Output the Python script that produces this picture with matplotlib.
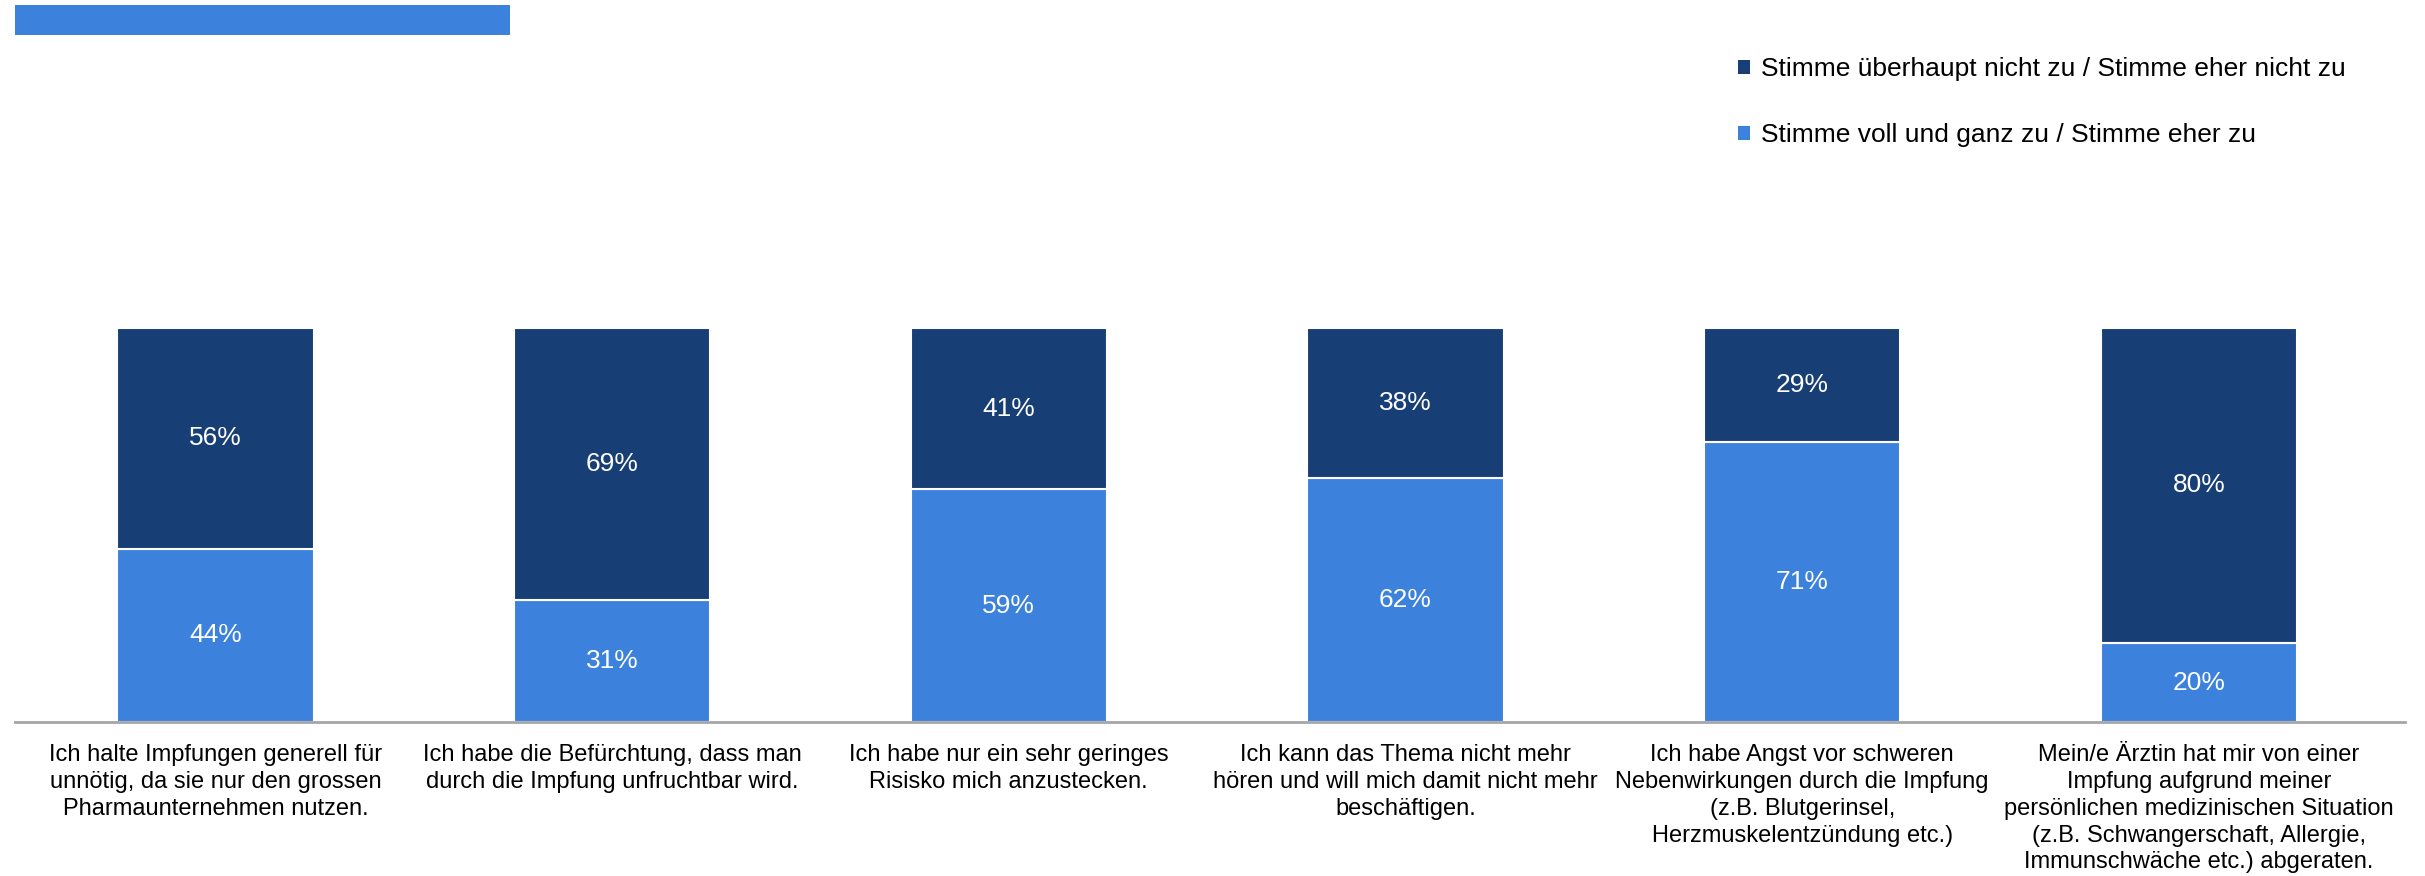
import matplotlib
matplotlib.use("Agg")
import matplotlib.pyplot as plt
from matplotlib.patches import Patch, Rectangle
import numpy as np

plt.rcParams['font.family'] = ['Liberation Sans', 'DejaVu Sans']

# data
categories = [
    "Ich halte Impfungen generell für\nunnötig, da sie nur den grossen\nPharmaunternehmen nutzen.",
    "Ich habe die Befürchtung, dass man\ndurch die Impfung unfruchtbar wird.",
    "Ich habe nur ein sehr geringes\nRisisko mich anzustecken.",
    "Ich kann das Thema nicht mehr\nhören und will mich damit nicht mehr\nbeschäftigen.",
    "Ich habe Angst vor schweren\nNebenwirkungen durch die Impfung\n(z.B. Blutgerinsel,\nHerzmuskelentzündung etc.)",
    "Mein/e Ärztin hat mir von einer\nImpfung aufgrund meiner\npersönlichen medizinischen Situation\n(z.B. Schwangerschaft, Allergie,\nImmunschwäche etc.) abgeraten.",
]
zustimmung = [44, 31, 59, 62, 71, 20]      # Stimme voll und ganz zu / eher zu
ablehnung = [56, 69, 41, 38, 29, 80]       # Stimme überhaupt nicht zu / eher nicht zu
label_zu = "Stimme voll und ganz zu / Stimme eher zu"
label_nicht = "Stimme überhaupt nicht zu / Stimme eher nicht zu"

c_light = '#3c82dc'
c_dark = '#173f76'

fig = plt.figure(figsize=(24.25, 8.76), dpi=100)
ax = fig.add_axes([0.0062, 0.1758, 0.9856, 0.45])

x = np.arange(len(categories))
w = 0.495
b1 = ax.bar(x, zustimmung, w, color=c_light, edgecolor='white', linewidth=1.5)
b2 = ax.bar(x, ablehnung, w, bottom=zustimmung, color=c_dark, edgecolor='white', linewidth=1.5)

for i in range(len(x)):
    ax.text(x[i], zustimmung[i] / 2, '%d%%' % zustimmung[i], ha='center', va='center',
            color='white', fontsize=19)
    ax.text(x[i], zustimmung[i] + ablehnung[i] / 2, '%d%%' % ablehnung[i], ha='center',
            va='center', color='white', fontsize=19)

ax.set_xlim(-0.505, 5.52)
ax.set_ylim(0, 100)
ax.set_yticks([])
ax.set_xticks(x)
ax.set_xticklabels(categories, fontsize=17, linespacing=1.28)
ax.tick_params(axis='x', length=0, pad=16)
for s in ['top', 'left', 'right']:
    ax.spines[s].set_visible(False)
ax.spines['bottom'].set_color('#a6a6a6')
ax.spines['bottom'].set_linewidth(2)

handles = [Patch(facecolor=c_dark, edgecolor='none'), Patch(facecolor=c_light, edgecolor='none')]
fig.legend(handles, [label_nicht, label_zu], loc='upper left', bbox_to_anchor=(0.707, 0.962),
           frameon=False, fontsize=19, handlelength=0.45, handleheight=0.45,
           handletextpad=0.4, labelspacing=1.6)

# blue bar at the top
fig.patches.append(Rectangle((0.0062, 0.96), 0.204, 0.034, transform=fig.transFigure,
                             facecolor=c_light, edgecolor='none'))

fig.savefig('out.png', dpi=100)
